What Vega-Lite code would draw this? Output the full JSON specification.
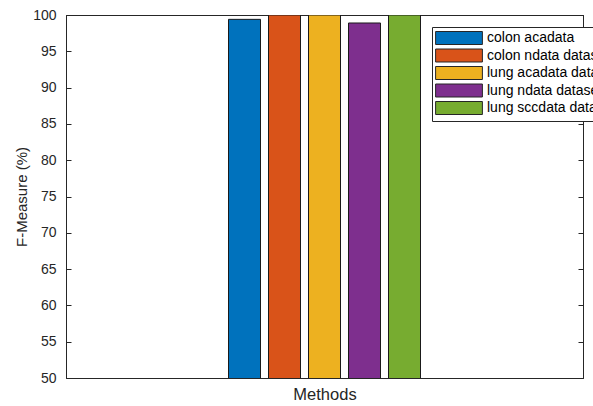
{
  "$schema": "https://vega.github.io/schema/vega-lite/v6.json",
  "autosize": "none",
  "padding": {"left": 66, "top": 15, "right": 10, "bottom": 28},
  "width": 517,
  "height": 363,
  "background": "white",
  "config": {
    "font": "Liberation Sans",
    "view": {"stroke": "#262626", "strokeWidth": 1},
    "axis": {
      "domainColor": "#262626",
      "tickColor": "#262626",
      "labelColor": "#262626",
      "titleColor": "#262626",
      "labelFont": "Liberation Sans",
      "titleFont": "Liberation Sans",
      "labelFontSize": 14,
      "titleFontSize": 15,
      "titleFontWeight": "normal",
      "grid": false
    },
    "legend": {
      "labelFont": "Liberation Sans",
      "labelFontSize": 14,
      "labelColor": "#000000"
    }
  },
  "data": {
    "values": [
      {"group": "Methods", "dataset": "colon acadata", "fmeasure": 99.4},
      {"group": "Methods", "dataset": "colon ndata dataset", "fmeasure": 100},
      {"group": "Methods", "dataset": "lung acadata dataset", "fmeasure": 100},
      {"group": "Methods", "dataset": "lung ndata dataset", "fmeasure": 98.9},
      {"group": "Methods", "dataset": "lung sccdata dataset", "fmeasure": 100}
    ]
  },
  "encoding": {
    "x": {"field": "group", "type": "nominal", "scale": {"paddingInner": 0, "paddingOuter": 0.7925}},
    "xOffset": {"field": "dataset", "type": "nominal", "sort": null, "scale": {"paddingInner": 0.2, "paddingOuter": 0.1}},
    "y": {"field": "fmeasure", "type": "quantitative", "scale": {"domain": [50, 100], "zero": false, "nice": false}},
    "color": {
      "field": "dataset",
      "type": "nominal",
      "sort": null,
      "scale": {"range": ["#0072BD", "#D95319", "#EDB120", "#7E2F8E", "#77AC30"]}
    }
  },
  "layer": [
    {
      "mark": {"type": "bar", "clip": true, "stroke": "#1a1a1a", "strokeWidth": 1},
      "encoding": {
        "x": {
          "field": "group", "type": "nominal",
          "axis": {"orient": "bottom", "labels": false, "tickSize": -5, "title": "Methods", "titleFontSize": 16.5, "titleY": 21.5, "titleBaseline": "alphabetic"}
        },
        "y": {
          "field": "fmeasure", "type": "quantitative",
          "axis": {"orient": "left", "values": [50, 55, 60, 65, 70, 75, 80, 85, 90, 95, 100], "tickSize": -5, "labelPadding": 15, "title": "F-Measure (%)", "titleX": -40, "titleY": 181.5, "titleBaseline": "alphabetic"}
        },
        "color": {
          "field": "dataset", "type": "nominal", "sort": null,
          "legend": {
            "orient": "none",
            "legendX": 366,
            "legendY": 12,
            "title": null,
            "strokeColor": "#262626",
            "fillColor": "white",
            "padding": 4,
            "symbolType": "M-3.6,-1H3.6V1H-3.6Z",
            "symbolSize": 169,
            "symbolOffset": 16,
            "symbolStrokeColor": "#262626",
            "symbolStrokeWidth": 1,
            "symbolOpacity": 1,
            "labelOffset": 21,
            "rowPadding": -0.5
          }
        }
      }
    },
    {
      "mark": {"type": "bar", "clip": true, "opacity": 0},
      "encoding": {
        "x": {"field": "group", "type": "nominal", "axis": {"orient": "top", "labels": false, "tickSize": -5, "title": null}},
        "y": {"field": "fmeasure", "type": "quantitative", "axis": {"orient": "right", "values": [50, 55, 60, 65, 70, 75, 80, 85, 90, 95, 100], "labels": false, "tickSize": -5, "title": null}}
      }
    }
  ],
  "resolve": {"axis": {"x": "independent", "y": "independent"}}
}
